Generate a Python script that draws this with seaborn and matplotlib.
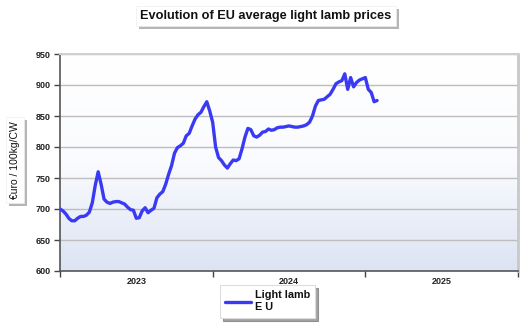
import numpy as np
import pandas as pd
import matplotlib
matplotlib.use("Agg")
import matplotlib.pyplot as plt
from matplotlib.patches import Rectangle
from matplotlib.colors import LinearSegmentedColormap
import seaborn as sns

# ---- data (weekly EU average light lamb price, €/100kg carcass weight) ----
prices = [700, 697, 692, 685, 681, 681, 685, 688, 688, 690,
          695, 710, 738, 760, 740, 716, 711, 709, 711, 712,
          712, 710, 708, 703, 699, 698, 685, 686, 697, 702,
          694, 698, 701, 718, 724, 728, 740, 756, 770, 790,
          799, 802, 806, 818, 822, 834, 845, 852, 856, 865,
          873, 858, 840, 800, 783, 778, 771, 766, 773, 779,
          778, 781, 797, 816, 830, 828, 818, 816, 819, 824,
          825, 829, 827, 828, 831, 832, 832, 833, 834, 833,
          832, 832, 833, 834, 836, 840, 850, 866, 875, 876,
          877, 881, 885, 893, 902, 905, 907, 918, 893, 912,
          897, 904, 908, 910, 912, 893, 888, 873, 875]
years = ["2023", "2024", "2025"]
series_name = "Light lamb\nE U"
title = "Evolution of EU average light lamb prices"
ylabel = "€uro / 100kg/CW"
yticks = [600, 650, 700, 750, 800, 850, 900, 950]
weeks_per_year = 52

df = pd.DataFrame({"week": np.arange(len(prices)), "price": prices,
                   "series": series_name})

sns.set_theme(style="white")
plt.rcParams["font.family"] = ["Liberation Sans", "DejaVu Sans"]

W, H = 527, 325
fig = plt.figure(figsize=(W / 100, H / 100), dpi=100)
fig.patch.set_facecolor("white")
ax = fig.add_axes([60 / W, 1 - 271 / H, 458 / W, 217 / H])

xmax = weeks_per_year * len(years)

# gradient background (white at top, light blue at bottom)
grad = np.linspace(0, 1, 256).reshape(-1, 1)
cmap = LinearSegmentedColormap.from_list("bg", ["#ffffff", "#fafbfe", "#dce3f3"])
ax.imshow(grad, extent=[0, xmax, yticks[0], yticks[-1]], cmap=cmap,
          aspect="auto", zorder=0, origin="upper")

for yv in yticks[1:]:
    ax.axhline(yv, color="#bdbdbd", lw=1.0, zorder=1)

sns.lineplot(data=df, x="week", y="price", hue="series",
             palette=["#3a3af5"], lw=2.4, ax=ax, zorder=3, legend=True)
ax.set_xlim(0, xmax)
ax.set_ylim(yticks[0], yticks[-1])

# axes style
ax.set_yticks(yticks)
ax.set_yticklabels([str(v) for v in yticks], fontsize=6.5, fontweight="bold",
                   color="#222222")
ax.tick_params(axis="y", which="major", length=4, width=1, color="#444444",
               left=True, pad=3)
ax.set_xticks([weeks_per_year * i for i in range(len(years) + 1)])
ax.set_xticklabels([])
ax.set_xticks([weeks_per_year * i + weeks_per_year / 2 for i in range(len(years))],
              minor=True)
ax.set_xticklabels(years, minor=True, fontsize=6.5, fontweight="bold",
                   color="#222222")
ax.tick_params(axis="x", which="major", length=4, width=1, color="#444444",
               bottom=True)
ax.tick_params(axis="x", which="minor", length=0, pad=4)
ax.set_xlabel("")
ax.set_ylabel("")
for s in ["left", "bottom"]:
    ax.spines[s].set_color("#555555")
    ax.spines[s].set_linewidth(1.2)
ax.spines["right"].set_color("#c8c8c8")
ax.spines["right"].set_linewidth(2.0)
ax.spines["top"].set_color("#d0d0d0")
ax.spines["top"].set_linewidth(1.5)

# legend
h, l = ax.get_legend_handles_labels()
ax.get_legend().remove()
leg = fig.legend(h, l, loc="upper left", bbox_to_anchor=(220 / W, 1 - 285 / H),
                 frameon=True, shadow=True, fancybox=False, fontsize=7.8,
                 handlelength=2.4, borderpad=0.5, handletextpad=0.3,
                 borderaxespad=0)
leg.get_frame().set_edgecolor("#dddddd")
leg.get_frame().set_linewidth(0.8)
for t in leg.get_texts():
    t.set_fontweight("bold")
    t.set_linespacing(1.25)
    t.set_color("#111111")


def boxed(x, y, s, size, rot=0, pad=0.35, weight="bold"):
    t = fig.text(x, y, s, fontsize=size, fontweight=weight, ha="center",
                 va="center", rotation=rot, color="#111111", zorder=5,
                 bbox=dict(boxstyle=f"square,pad={pad}", fc="white",
                           ec="#eeeeee", lw=0.5))
    fig.canvas.draw()
    bb = t.get_bbox_patch().get_window_extent()
    fig.patches.append(Rectangle((bb.x0 + 3, bb.y0 - 3), bb.width, bb.height,
                                 transform=None, fc="#b5b5b5", ec="none",
                                 zorder=4, figure=fig))
    return t


boxed(266 / W, 1 - 16 / H, title, 9.2)
boxed(15 / W, 1 - 160 / H, ylabel, 7.5, rot=90, pad=0.4, weight="normal")

fig.savefig("out.png", dpi=100)
